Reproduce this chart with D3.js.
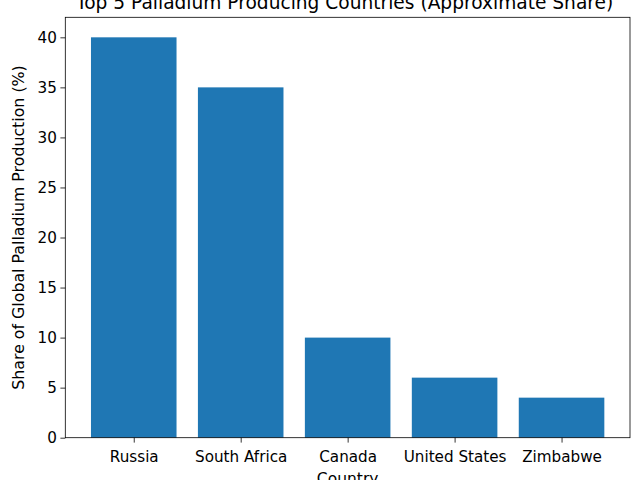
<!DOCTYPE html>
<html>
<head>
	<meta charset="utf-8">
	<script src="https://d3js.org/d3.v7.min.js"></script>
	<style>
		body { margin: 0; background: #fff; }
		svg text { font-family: 'DejaVu Sans', sans-serif; fill: #000; }
	</style>
</head>
<body>
	<script>
		var countries = ["Russia", "South Africa", "Canada", "United States", "Zimbabwe"];
		var shares = [40, 35, 10, 6, 4];
		var yTicks = [0, 5, 10, 15, 20, 25, 30, 35, 40];

		var w = 640, h = 480;
		var mLeft = 65.3, mRight = 630, mTop = 17.3, mBottom = 437.7;
		var tickFont = "15.2px";

		var svg = d3.select("body").append("svg")
			.attr("width", w)
			.attr("height", h);

		// matplotlib-like: bar width 0.8, 5% margins
		var x = d3.scaleLinear().domain([-0.64, countries.length - 1 + 0.64]).range([mLeft, mRight]);
		var y = d3.scaleLinear().domain([0, 42]).range([mBottom, mTop]);

		svg.append("g")
			.selectAll("rect")
			.data(shares)
			.enter()
			.append("rect")
			.attr("x", function (d, i) { return x(i - 0.4); })
			.attr("width", function (d, i) { return x(i + 0.4) - x(i - 0.4); })
			.attr("y", function (d) { return y(d); })
			.attr("height", function (d) { return y(0) - y(d); })
			.attr("fill", "#1f77b4");

		var yAxis = svg.append("g")
			.attr("transform", "translate(" + mLeft + ",0)")
			.call(d3.axisLeft(y).tickValues(yTicks).tickSize(4.9).tickPadding(3.5));

		var xAxis = svg.append("g")
			.attr("transform", "translate(0," + mBottom + ")")
			.call(d3.axisBottom(x).tickValues(d3.range(countries.length))
				.tickFormat(function (i) { return countries[i]; })
				.tickSize(4.9).tickPadding(3.5));

		[yAxis, xAxis].forEach(function (g) {
			g.select(".domain").remove();
			g.selectAll("text").style("font-size", tickFont).attr("fill", "#000");
			g.selectAll("line").attr("stroke", "#000").attr("stroke-width", 0.8);
		});
		xAxis.selectAll("text").attr("dy", null).attr("y", 24.3);

		// frame
		svg.append("rect")
			.attr("x", mLeft).attr("y", mTop)
			.attr("width", mRight - mLeft).attr("height", mBottom - mTop)
			.attr("fill", "none").attr("stroke", "#000").attr("stroke-width", 0.8);

		svg.append("text")
			.attr("x", (mLeft + mRight) / 2 - 3)
			.attr("y", 9)
			.attr("text-anchor", "middle")
			.style("font-size", "18.6px")
			.text("Top 5 Palladium Producing Countries (Approximate Share)");

		svg.append("text")
			.attr("x", (mLeft + mRight) / 2)
			.attr("y", 483.5)
			.attr("text-anchor", "middle")
			.style("font-size", "15.5px")
			.text("Country");

		svg.append("text")
			.attr("transform", "translate(23.5," + (mTop + mBottom) / 2 + ") rotate(-90)")
			.attr("text-anchor", "middle")
			.style("font-size", "15.8px")
			.text("Share of Global Palladium Production (%)");
	</script>
</body>
</html>
